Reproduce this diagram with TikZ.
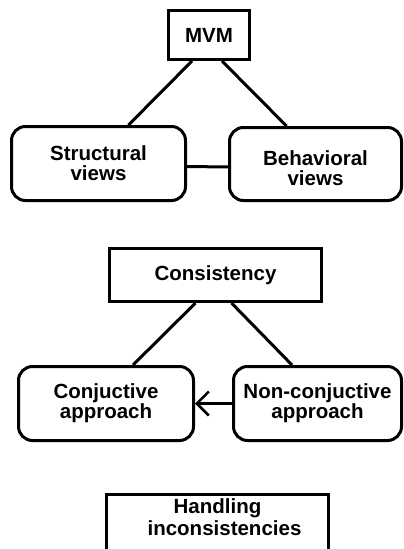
\documentclass[tikz,border=0pt]{standalone}
\usepackage{fontspec}
\setmainfont{Liberation Sans}
\usetikzlibrary{arrows.meta}
\begin{document}
\begin{tikzpicture}[x=1pt,y=-1pt,
  every node/.style={font=\fontsize{20.5}{20}\selectfont\bfseries, align=center, inner sep=0pt},
  sqbox/.style={draw, line width=3pt},
  rbox/.style={draw, line width=3pt, rounded corners=14pt},
  conn/.style={line width=3pt}]
\useasboundingbox (0,0) rectangle (404,549);
\clip (0,0) rectangle (404,549);
\node[sqbox, minimum width=81pt, minimum height=49pt] (mvm) at (209,35) {MVM};
\node[rbox, minimum width=174pt, minimum height=74pt] (struct) at (98.5,163.5) {Structural\\views};
\node[rbox, minimum width=172pt, minimum height=73pt] (behav) at (315.5,164) {\mbox{}\\[3pt]Behavioral\\views};
\node[sqbox, minimum width=212pt, minimum height=53pt] (cons) at (215.5,275) {Consistency};
\node[rbox, minimum width=175pt, minimum height=74pt] (conj) at (106,403.5) {Conjuctive\\approach};
\node[rbox, minimum width=168pt, minimum height=74pt] (nonconj) at (317.5,403.5) {Non-conjuctive\\approach};
\node[sqbox, anchor=north, minimum width=222pt, inner ysep=5pt, text depth=60pt] (hand) at (217.5,492.5) {Handling\\[2pt]\hspace*{14pt}inconsistencies};
\draw[conn] ([xshift=-17pt]mvm.south) -- ([xshift=30pt]struct.north);
\draw[conn] ([xshift=13pt]mvm.south) -- ([xshift=-29pt]behav.north);
\draw[conn] ([yshift=-3pt]struct.east) -- ([yshift=-3pt]behav.west);
\draw[conn] ([xshift=-20pt]cons.south) -- ([xshift=27pt]conj.north);
\draw[conn] ([xshift=16pt]cons.south) -- ([xshift=-25.5pt]nonconj.north);
\draw[conn, -{Straight Barb[length=12pt, width=24pt, line width=2.6pt]}] (nonconj.west) -- (conj.east);
\end{tikzpicture}
\end{document}
